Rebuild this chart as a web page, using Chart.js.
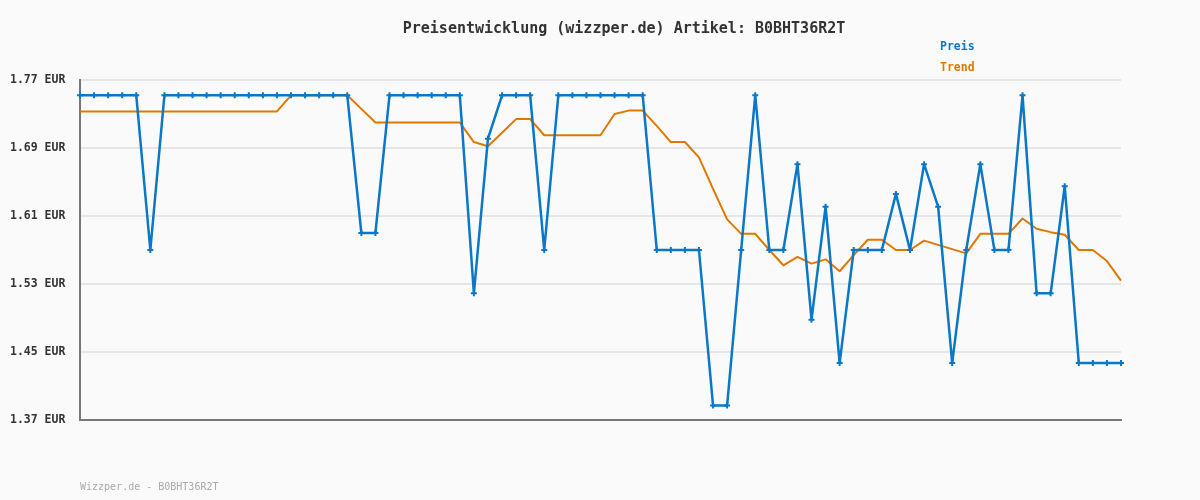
<!DOCTYPE html>
<html lang="de">
<head>
  <title>Preisentwicklung B0BHT36R2T</title>
  <meta charset="UTF-8">
  <script src="https://cdn.jsdelivr.net/npm/chart.js"></script>
  <style>
    html, body { margin: 0; padding: 0; background: #fafafa; }
    #wrap { width: 1200px; height: 500px; }
  </style>
</head>
<body>
<div id="wrap"><canvas id="priceChart" width="1200" height="500"></canvas></div>

<script>
  // Daten
  const chartTitle = 'Preisentwicklung (wizzper.de) Artikel: B0BHT36R2T';
  const footerText = 'Wizzper.de - B0BHT36R2T';
  const seriesNames = ['Preis', 'Trend'];
  const yTicks = [1.37, 1.45, 1.53, 1.61, 1.69, 1.77];

  const preis = [
    1.752, 1.752, 1.752, 1.752, 1.752, 1.570, 1.752, 1.752, 1.752, 1.752,
    1.752, 1.752, 1.752, 1.752, 1.752, 1.752, 1.752, 1.752, 1.752, 1.752,
    1.590, 1.590, 1.752, 1.752, 1.752, 1.752, 1.752, 1.752, 1.519, 1.701,
    1.752, 1.752, 1.752, 1.570, 1.752, 1.752, 1.752, 1.752, 1.752, 1.752,
    1.752, 1.570, 1.570, 1.570, 1.570, 1.387, 1.387, 1.570, 1.752, 1.570,
    1.570, 1.671, 1.488, 1.621, 1.437, 1.570, 1.570, 1.570, 1.636, 1.570,
    1.671, 1.621, 1.437, 1.570, 1.671, 1.570, 1.570, 1.752, 1.519, 1.519,
    1.645, 1.437, 1.437, 1.437, 1.437
  ];

  const trend = [
    1.733, 1.733, 1.733, 1.733, 1.733, 1.733, 1.733, 1.733, 1.733, 1.733,
    1.733, 1.733, 1.733, 1.733, 1.733, 1.752, 1.752, 1.752, 1.752, 1.752,
    1.736, 1.720, 1.720, 1.720, 1.720, 1.720, 1.720, 1.720, 1.697, 1.692,
    1.708, 1.724, 1.724, 1.705, 1.705, 1.705, 1.705, 1.705, 1.730, 1.734,
    1.734, 1.716, 1.697, 1.697, 1.679, 1.642, 1.606, 1.589, 1.589, 1.570,
    1.552, 1.562, 1.554, 1.559, 1.545, 1.564, 1.582, 1.582, 1.570, 1.570,
    1.581, 1.576, 1.571, 1.566, 1.589, 1.589, 1.589, 1.607, 1.595, 1.591,
    1.588, 1.570, 1.570, 1.557, 1.534
  ];

  const labels = preis.map((_, i) => String(i + 1));

  const blue = '#0a78c6';
  const orange = '#e07800';
  const mono = "'DejaVu Sans Mono', 'Liberation Mono', monospace";

  // Titel, Legende und Fusszeile wie im Original als freie Texte
  const extraText = {
    id: 'extraText',
    afterDraw(chart) {
      const ctx = chart.ctx;
      ctx.save();
      ctx.textBaseline = 'middle';
      ctx.textAlign = 'center';
      ctx.font = 'bold 15px ' + mono;
      ctx.fillStyle = '#333333';
      ctx.fillText(chartTitle, 624, 29);
      ctx.textAlign = 'left';
      ctx.font = 'bold 11.5px ' + mono;
      ctx.fillStyle = blue;
      ctx.fillText(seriesNames[0], 940, 47);
      ctx.fillStyle = orange;
      ctx.fillText(seriesNames[1], 940, 68);
      ctx.font = '10px ' + mono;
      ctx.fillStyle = '#aaaaaa';
      ctx.fillText(footerText, 80, 487);
      ctx.restore();
    }
  };

  const bg = {
    id: 'bg',
    beforeDraw(chart) {
      const ctx = chart.ctx;
      ctx.save();
      ctx.fillStyle = '#fafafa';
      ctx.fillRect(0, 0, chart.width, chart.height);
      ctx.restore();
    }
  };

  new Chart(document.getElementById('priceChart'), {
    type: 'line',
    data: {
      labels: labels,
      datasets: [
        {
          label: seriesNames[0],
          data: preis,
          borderColor: blue,
          backgroundColor: blue,
          borderWidth: 2.5,
          borderJoinStyle: 'round',
          pointStyle: 'cross',
          pointRadius: 3,
          pointBorderWidth: 2,
          pointBorderColor: blue,
          tension: 0,
          order: 1
        },
        {
          label: seriesNames[1],
          data: trend,
          borderColor: orange,
          backgroundColor: orange,
          borderWidth: 2,
          borderJoinStyle: 'round',
          pointRadius: 0,
          tension: 0,
          order: 2
        }
      ]
    },
    options: {
      responsive: false,
      animation: false,
      layout: { padding: { top: 80, right: 79, bottom: 80, left: 10 } },
      plugins: {
        legend: { display: false },
        tooltip: { enabled: false },
        title: { display: false }
      },
      scales: {
        x: {
          offset: false,
          ticks: { display: false },
          grid: { display: false, drawTicks: false },
          border: { display: true, color: '#777777', width: 2 }
        },
        y: {
          min: yTicks[0],
          max: yTicks[yTicks.length - 1],
          afterFit(scale) { scale.width = 70; },
          afterBuildTicks(scale) { scale.ticks = yTicks.map(v => ({ value: v })); },
          ticks: {
            crossAlign: 'far',
            padding: 6,
            color: '#333333',
            font: { family: mono, size: 11.5, weight: 'bold' },
            callback: v => v.toFixed(2) + ' EUR'
          },
          grid: { color: '#e6e6e6', lineWidth: 2, drawTicks: false },
          border: { display: true, color: '#777777', width: 2 }
        }
      }
    },
    plugins: [bg, extraText]
  });
</script>
</body>
</html>
